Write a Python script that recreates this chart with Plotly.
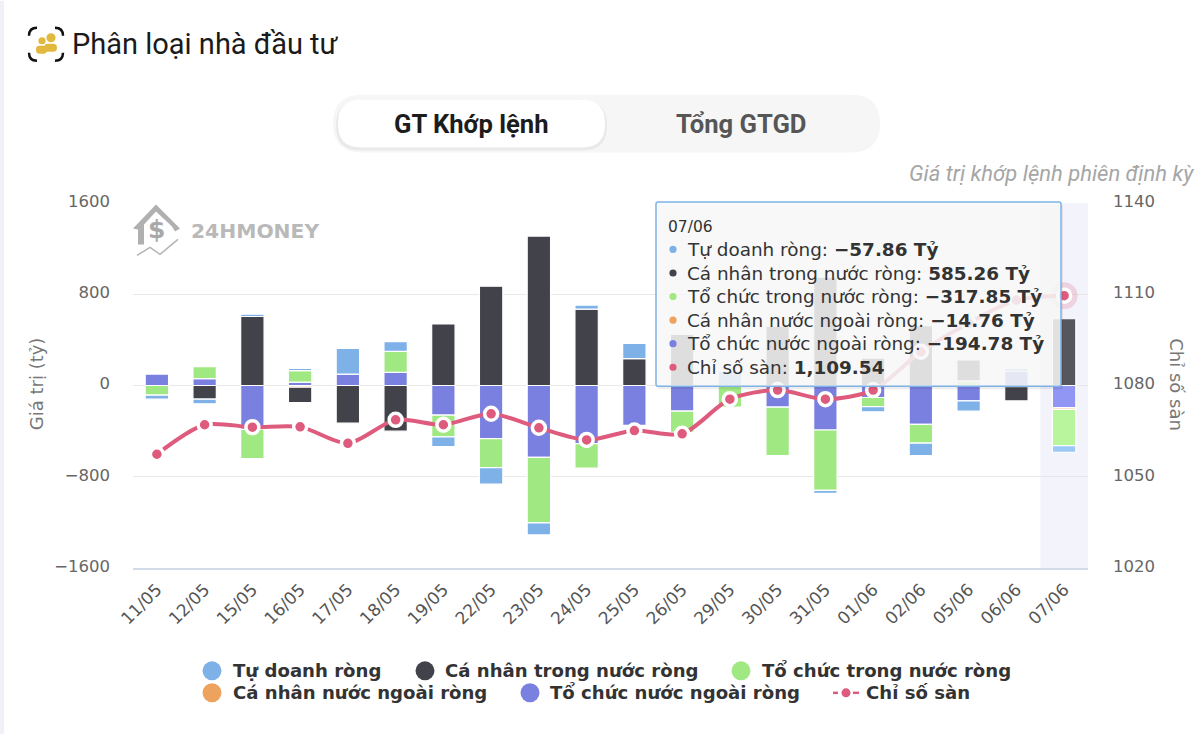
import plotly.graph_objects as go

dates = ["11/05","12/05","15/05","16/05","17/05","18/05","19/05","22/05","23/05","24/05",
         "25/05","26/05","29/05","30/05","31/05","01/06","02/06","05/06","06/06","07/06"]
tu_doanh = [-35,-40,20,20,225,85,-85,-145,-105,35,135,0,125,0,-25,-45,-110,-90,25,-57.86]
ca_nhan_tn = [0,-120,605,-135,-330,-400,540,870,1310,670,235,447,0,520,950,240,525,185,-125,585.26]
to_chuc_tn = [-85,105,-255,100,0,185,-190,-255,-575,-215,0,-185,-190,-425,-530,-80,-165,40,0,-317.85]
ca_nhan_nn = [0,0,0,-15,0,0,0,0,0,0,0,0,0,0,0,0,0,0,-10,-14.76]
to_chuc_nn = [100,60,-385,30,100,115,-260,-465,-630,-510,-350,-225,0,-190,-390,-105,-340,-135,125,-194.78]
chi_so = [1057.4,1067.1,1066.3,1066.4,1061.0,1068.7,1067.1,1070.7,1066.1,1062.1,
          1065.2,1064.1,1075.5,1078.5,1075.5,1078.5,1091.1,1100.5,1108.1,1109.54]
left_ticks = [1600,800,0,-800,-1600]
left_labels = ["1600","800","0","−800","−1600"]
right_ticks = [1140,1110,1080,1050,1020]

W, H = 1200, 734
L, R, T, B = 133, 1088, 202.5, 568
FONT = "DejaVu Sans"
def X(x): return (x - L) / (R - L)
def Y(y): return (B - y) / (B - T)

def poly(cmds):
    out = []
    for c in cmds:
        vals = c[1:]
        coords = [f"{X(vals[i]):.5f},{Y(vals[i+1]):.5f}" for i in range(0, len(vals), 2)]
        out.append(c[0] + " " + " ".join(coords))
    return " ".join(out)

def rrect(x0, y0, x1, y1, r):
    pts = [("M", x0 + r, y0), ("L", x1 - r, y0), ("Q", x1, y0, x1, y0 + r), ("L", x1, y1 - r),
           ("Q", x1, y1, x1 - r, y1), ("L", x0 + r, y1), ("Q", x0, y1, x0, y1 - r),
           ("L", x0, y0 + r), ("Q", x0, y0, x0 + r, y0)]
    return poly(pts) + " Z"

shapes, annos = [], []
def path(d, fill=None, line=None, width=0, layer="below"):
    shapes.append(dict(type="path", xref="paper", yref="paper", path=d, fillcolor=fill or "rgba(0,0,0,0)",
                       line=dict(color=line or "rgba(0,0,0,0)", width=width), layer=layer))
def circle(cx, cy, r, fill, layer="above"):
    shapes.append(dict(type="circle", xref="paper", yref="paper", x0=X(cx-r), x1=X(cx+r), y0=Y(cy+r), y1=Y(cy-r),
                       fillcolor=fill, line=dict(width=0), layer=layer))
def text(x, y, s, size, color, anchor="left", family=FONT, angle=0):
    annos.append(dict(xref="paper", yref="paper", x=X(x), y=Y(y), text=s, showarrow=False, xanchor=anchor,
                      yanchor="middle", align="left", textangle=angle,
                      font=dict(size=size, color=color, family=family)))

BLUE, BLACK, GREEN, ORANGE, PURPLE, PINK = "#7db1e8", "#42434a", "#a0e882", "#eda25e", "#7a80e0", "#de5b7d"

# page chrome
path(poly([("M", 0, 0), ("L", 4, 0), ("L", 4, H), ("L", 0, H)]) + " Z", fill="#eff1f7")
path(rrect(333, 94, 880, 152, 29), fill="#f6f6f6")
path(rrect(336, 100, 607, 150, 24), fill="rgba(0,0,0,0.05)")
path(rrect(338, 99, 605, 147, 23), fill="#ffffff")
text(471, 123, "<b>GT Khớp lệnh</b>", 25.6, "#1c1c1c", "center", "Roboto")
text(741, 123, "<b>Tổng GTGD</b>", 25.6, "#565656", "center", "Roboto")
text(70, 43, "Phân loại nhà đầu tư", 29, "#1a1a1a", family="Roboto")
text(907, 173, "<i>Giá trị khớp lệnh phiên định kỳ</i>", 22, "#a6a6a6", family="Roboto")

# title icon
for d in [[("M", 37, 27), ("Q", 29, 27, 29, 35)], [("M", 55, 27), ("Q", 63, 27, 63, 35)],
          [("M", 29, 52), ("Q", 29, 60, 37, 60)], [("M", 63, 52), ("Q", 63, 60, 55, 60)]]:
    path(poly(d), line="#111111", width=2.5)
circle(42, 40, 3.6, "#e2b93f", "below"); circle(51, 37, 4.6, "#e2b93f", "below")
path(rrect(36, 45, 47, 53, 3.5), fill="#e2b93f"); path(rrect(44, 43, 57, 51, 4), fill="#e2b93f")

# watermark
path(poly([("M", 133, 228), ("L", 156, 204), ("L", 180, 228), ("L", 175, 231), ("L", 172, 226), ("L", 156, 211),
           ("L", 144, 224), ("L", 144, 244), ("L", 138, 244), ("L", 138, 229)]) + " Z", fill="#b0b0b0")
path(poly([("M", 137, 255), ("L", 150, 247), ("L", 160, 254), ("L", 178, 239)]), line="#b4b4b4", width=1.5)
text(156, 229, "<b>$</b>", 25, "#a8a8a8", "center")
text(188.5, 231, "<b>24HMONEY</b>", 20.3, "#b9b9b9")

# legend
for cx, cy, col, tx, s in [(212, 671, BLUE, 231, "Tự doanh ròng"), (425, 671, BLACK, 443, "Cá nhân trong nước ròng"),
                           (741, 671, GREEN, 760, "Tổ chức trong nước ròng"), (212, 693, ORANGE, 231, "Cá nhân nước ngoài ròng"),
                           (530, 693, PURPLE, 548, "Tổ chức nước ngoài ròng")]:
    circle(cx, cy, 9.5, col)
    text(tx, cy, f"<b>{s}</b>", 18.1, "#333333")
path(poly([("M", 833, 693), ("L", 838, 693)]), line=PINK, width=2.5)
path(poly([("M", 853, 693), ("L", 859, 693)]), line=PINK, width=2.5)
circle(846, 693, 4.5, PINK)
text(864, 693, "<b>Chỉ số sàn</b>", 18.1, "#333333")

# highlighted category
shapes.append(dict(type="rect", xref="x", yref="paper", x0=18.5, x1=19.5, y0=0, y1=1, fillcolor="#f3f4fb",
                   line=dict(width=0), layer="below"))

# tooltip
path(rrect(658, 204, 1063, 389, 2), fill="rgba(0,0,0,0.07)", layer="above")
path(rrect(656, 201.5, 1061, 386, 2), fill="rgba(249,249,249,0.86)", line="#7fb2e6", width=1.5, layer="above")
text(666, 227, "07/06", 15.5, "#333333")
def fmt(v): return f"{v:.2f}".replace("-", "−")
rows = [(BLUE, "Tự doanh ròng", tu_doanh), (BLACK, "Cá nhân trong nước ròng", ca_nhan_tn),
        (GREEN, "Tổ chức trong nước ròng", to_chuc_tn), (ORANGE, "Cá nhân nước ngoài ròng", ca_nhan_nn),
        (PURPLE, "Tổ chức nước ngoài ròng", to_chuc_nn)]
ty = 249
for col, name, arr in rows:
    circle(673, ty, 3.6, col)
    text(685, ty, f"{name}: <b>{fmt(arr[-1])} Tỷ</b>", 18.4, "#333333")
    ty += 23.6
circle(673, ty, 3.6, PINK)
text(685, ty, f"Chỉ số sàn: <b>{chi_so[-1]:,.2f}</b>", 18.4, "#333333")

# axis titles
text(36, 384, "Giá trị (tỷ)", 18, "#777777", "center", angle=-90)
text(1177, 384, "Chỉ số sàn", 18, "#777777", "center", angle=90)

def clean(a): return [v if v != 0 else None for v in a]
def barcolors(col, hi): return [col] * (len(dates) - 1) + [hi]

fig = go.Figure()
for name, arr, col, hi in [("Tổ chức nước ngoài ròng", to_chuc_nn, PURPLE, "#9195f3"),
                           ("Cá nhân nước ngoài ròng", ca_nhan_nn, ORANGE, "#f6b67c"),
                           ("Tổ chức trong nước ròng", to_chuc_tn, GREEN, "#b9f59d"),
                           ("Cá nhân trong nước ròng", ca_nhan_tn, BLACK, "#56575e"),
                           ("Tự doanh ròng", tu_doanh, BLUE, "#9cc8f5")]:
    fig.add_trace(go.Bar(x=dates, y=clean(arr), name=name, showlegend=False, width=0.49,
                         marker=dict(color=barcolors(col, hi), line=dict(color="#ffffff", width=1.2))))
fig.add_trace(go.Scatter(x=dates[-1:], y=chi_so[-1:], yaxis="y2", mode="markers", showlegend=False, hoverinfo="skip",
                         marker=dict(size=27, color="rgba(222,91,125,0.22)", line=dict(width=0))))
fig.add_trace(go.Scatter(x=dates, y=chi_so, yaxis="y2", name="Chỉ số sàn", mode="lines+markers", showlegend=False,
                         line=dict(color=PINK, width=4, shape="spline", smoothing=0.8),
                         marker=dict(size=13, color=PINK, line=dict(color="#ffffff", width=3.5))))

fig.update_layout(
    width=W, height=H, margin=dict(l=L, r=W - R, t=T, b=H - B, pad=0, autoexpand=False),
    paper_bgcolor="#ffffff", plot_bgcolor="rgba(0,0,0,0)", barmode="relative", showlegend=False,
    font=dict(family=FONT, color="#666666"), shapes=shapes, annotations=annos,
    xaxis=dict(type="category", categoryorder="array", categoryarray=dates, range=[-0.5, 19.5], tickangle=-45,
               showgrid=False, showline=True, linecolor="#d3dae8", linewidth=2, ticks="", zeroline=False,
               ticklabelstandoff=3, tickfont=dict(size=17, color="#555555")),
    yaxis=dict(range=[-1600, 1600], tickvals=left_ticks, ticktext=left_labels, gridcolor="#e8e8e8", gridwidth=1,
               zeroline=False, showline=False, ticklabelstandoff=22, ticklabelshift=-2,
               tickfont=dict(size=16.5, color="#666666")),
    yaxis2=dict(range=[1020, 1140], overlaying="y", side="right", tickvals=right_ticks, showgrid=False, zeroline=False,
                showline=False, ticklabelstandoff=24, ticklabelshift=-2,
                tickfont=dict(size=16.5, color="#666666")),
    hovermode="x",
)
fig.write_html("out.html", config=dict(displayModeBar=False),
               post_script="document.body.style.margin='0';document.body.style.overflow='hidden';")
